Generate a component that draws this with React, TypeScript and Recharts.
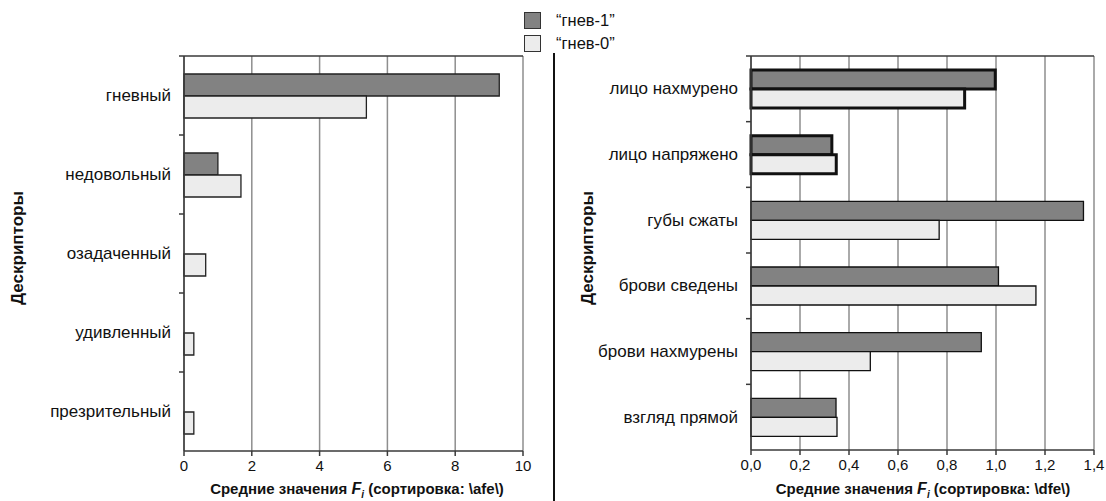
import React from 'react';
import { BarChart, Bar, XAxis, YAxis, CartesianGrid, Cell } from 'recharts';

const leftCategories = ['гневный', 'недовольный', 'озадаченный', 'удивленный', 'презрительный'];
const leftAnger1 = [9.3, 1.0, 0, 0, 0];
const leftAnger0 = [5.38, 1.68, 0.64, 0.29, 0.29];
const leftTicks = [0, 2, 4, 6, 8, 10];

const rightCategories = ['лицо нахмурено', 'лицо напряжено', 'губы сжаты', 'брови сведены', 'брови нахмурены', 'взгляд прямой'];
const rightAnger1 = [0.997, 0.33, 1.357, 1.01, 0.94, 0.347];
const rightAnger0 = [0.872, 0.348, 0.768, 1.163, 0.487, 0.351];
const rightTicks = [0, 0.2, 0.4, 0.6, 0.8, 1.0, 1.2, 1.4];
const highlightedDescriptors = ['лицо нахмурено', 'лицо напряжено'];

const seriesNames = ['“гнев-1”', '“гнев-0”'];

const leftData = leftCategories.map((name, i) => ({ name, a1: leftAnger1[i], a0: leftAnger0[i] }));
const rightData = rightCategories.map((name, i) => ({ name, a1: rightAnger1[i], a0: rightAnger0[i] }));

const FONT = "'Liberation Sans', Arial, sans-serif";
const DARK_FILL = '#828282';
const LIGHT_FILL = '#ececec';
const AXIS = '#3a3a3a';
const GRID = '#8e8e8e';

const H = 501;

function makeTick(band: number, count: number) {
  return (props: any) => {
    const { x, y, payload, index } = props;
    return (
      <g>
        {index === 0 && (
          <line x1={x - 5} x2={x} y1={y - band / 2} y2={y - band / 2} stroke={AXIS} strokeWidth={1.5} />
        )}
        {index < count - 1 && (
          <line x1={x - 5} x2={x} y1={y + band / 2} y2={y + band / 2} stroke={AXIS} strokeWidth={1.5} />
        )}
        <text x={x - 13} y={y} textAnchor="end" dominantBaseline="central" fontSize={17} fill="#111" fontFamily={FONT}>
          {payload.value}
        </text>
      </g>
    );
  };
}

function AxisTitle({ center, code }: { center: number; code: string }) {
  return (
    <div
      style={{
        position: 'absolute',
        left: center - 200,
        width: 400,
        top: 480,
        textAlign: 'center',
        fontFamily: FONT,
        fontWeight: 'bold',
        fontSize: 15,
        lineHeight: '18px',
        color: '#111',
        whiteSpace: 'nowrap',
      }}
    >
      Средние значения <i style={{ fontSize: 16 }}>F</i>
      <sub style={{ fontSize: 10, fontStyle: 'italic', lineHeight: 0 }}>i</sub> (сортировка: {code})
    </div>
  );
}

function YTitle({ cx }: { cx: number }) {
  return (
    <div
      style={{
        position: 'absolute',
        left: cx - 80,
        top: 248 - 12,
        width: 160,
        height: 24,
        lineHeight: '24px',
        textAlign: 'center',
        transform: 'rotate(-90deg)',
        fontFamily: FONT,
        fontWeight: 'bold',
        fontSize: 17,
        color: '#111',
      }}
    >
      Дескрипторы
    </div>
  );
}

export default function App() {
  const leftTop = 56;
  const leftBottom = 451;
  const leftBand = (leftBottom - leftTop) / leftCategories.length;
  const rightTop = 56;
  const rightBottom = 450;
  const rightBand = (rightBottom - rightTop) / rightCategories.length;

  return (
    <div style={{ position: 'absolute', left: 0, top: 0, width: 1106, height: H, background: '#fff', fontFamily: FONT, overflow: 'hidden' }}>
      {/* Left chart */}
      <div style={{ position: 'absolute', left: 0, top: 0 }}>
        <BarChart
          width={553}
          height={H}
          data={leftData}
          layout="vertical"
          margin={{ top: 0, right: 30, bottom: 0, left: 0 }}
          barGap={0}
        >
          <CartesianGrid horizontal={false} stroke={GRID} strokeWidth={1.5} />
          <XAxis
            type="number"
            domain={[0, 10]}
            ticks={leftTicks}
            height={50}
            tickSize={5}
            tickMargin={4}
            stroke={AXIS}
            strokeWidth={1.5}
            tick={{ fontSize: 15, fill: '#111', fontFamily: FONT }}
          />
          <XAxis xAxisId="top" orientation="top" type="number" domain={[0, 10]} height={56} tick={false} tickLine={false} stroke={AXIS} strokeWidth={1.5} />
          <YAxis
            type="category"
            dataKey="name"
            width={184}
            tickLine={false}
            tickSize={0}
            tickMargin={0}
            stroke={AXIS}
            strokeWidth={1.5}
            tick={makeTick(leftBand, leftCategories.length)}
            interval={0}
          />
          <YAxis yAxisId="r" orientation="right" type="category" dataKey="name" width={0} tick={false} tickLine={false} stroke={AXIS} strokeWidth={1.5} />
          <Bar dataKey="a1" name={seriesNames[0]} fill={DARK_FILL} stroke="#222" strokeWidth={1.3} barSize={22} isAnimationActive={false} />
          <Bar dataKey="a0" name={seriesNames[1]} fill={LIGHT_FILL} stroke="#222" strokeWidth={1.3} barSize={22} isAnimationActive={false} />
        </BarChart>
      </div>

      {/* Right chart */}
      <div style={{ position: 'absolute', left: 554, top: 0 }}>
        <BarChart
          width={552}
          height={H}
          data={rightData}
          layout="vertical"
          margin={{ top: 0, right: 12, bottom: 0, left: 0 }}
          barGap={0}
        >
          <CartesianGrid horizontal={false} stroke={GRID} strokeWidth={1.5} />
          <XAxis
            type="number"
            domain={[0, 1.4]}
            ticks={rightTicks}
            height={51}
            tickSize={5}
            tickMargin={4}
            stroke={AXIS}
            strokeWidth={1.5}
            tickFormatter={(v: number) => v.toFixed(1).replace('.', ',')}
            tick={{ fontSize: 15, fill: '#111', fontFamily: FONT }}
          />
          <XAxis xAxisId="top" orientation="top" type="number" domain={[0, 1.4]} height={56} tick={false} tickLine={false} stroke={AXIS} strokeWidth={1.5} />
          <YAxis
            type="category"
            dataKey="name"
            width={197}
            tickLine={false}
            tickSize={0}
            tickMargin={0}
            stroke={AXIS}
            strokeWidth={1.5}
            tick={makeTick(rightBand, rightCategories.length)}
            interval={0}
          />
          <YAxis yAxisId="r" orientation="right" type="category" dataKey="name" width={0} tick={false} tickLine={false} stroke={AXIS} strokeWidth={1.5} />
          <Bar dataKey="a1" name={seriesNames[0]} fill={DARK_FILL} stroke="#111" barSize={19} isAnimationActive={false}>
            {rightData.map((d) => (
              <Cell key={d.name} strokeWidth={highlightedDescriptors.includes(d.name) ? 3 : 1.3} />
            ))}
          </Bar>
          <Bar dataKey="a0" name={seriesNames[1]} fill={LIGHT_FILL} stroke="#111" barSize={19} isAnimationActive={false}>
            {rightData.map((d) => (
              <Cell key={d.name} strokeWidth={highlightedDescriptors.includes(d.name) ? 3 : 1.3} />
            ))}
          </Bar>
        </BarChart>
      </div>

      {/* Divider */}
      <div style={{ position: 'absolute', left: 553, top: 53, width: 2, height: H - 53, background: '#111' }} />

      {/* Legend */}
      {seriesNames.map((s, i) => (
        <div key={s} style={{ position: 'absolute', left: 524, top: 12 + i * 23, height: 17, display: 'flex', alignItems: 'center' }}>
          <div style={{ width: 15, height: 15, background: i === 0 ? DARK_FILL : LIGHT_FILL, border: '1px solid #333' }} />
          <span style={{ marginLeft: 15, fontSize: 16.5, fontFamily: FONT, color: '#111' }}>{s}</span>
        </div>
      ))}

      <YTitle cx={18} />
      <YTitle cx={588} />
      <AxisTitle center={357} code={'\\afe\\'} />
      <AxisTitle center={923} code={'\\dfe\\'} />
    </div>
  );
}
